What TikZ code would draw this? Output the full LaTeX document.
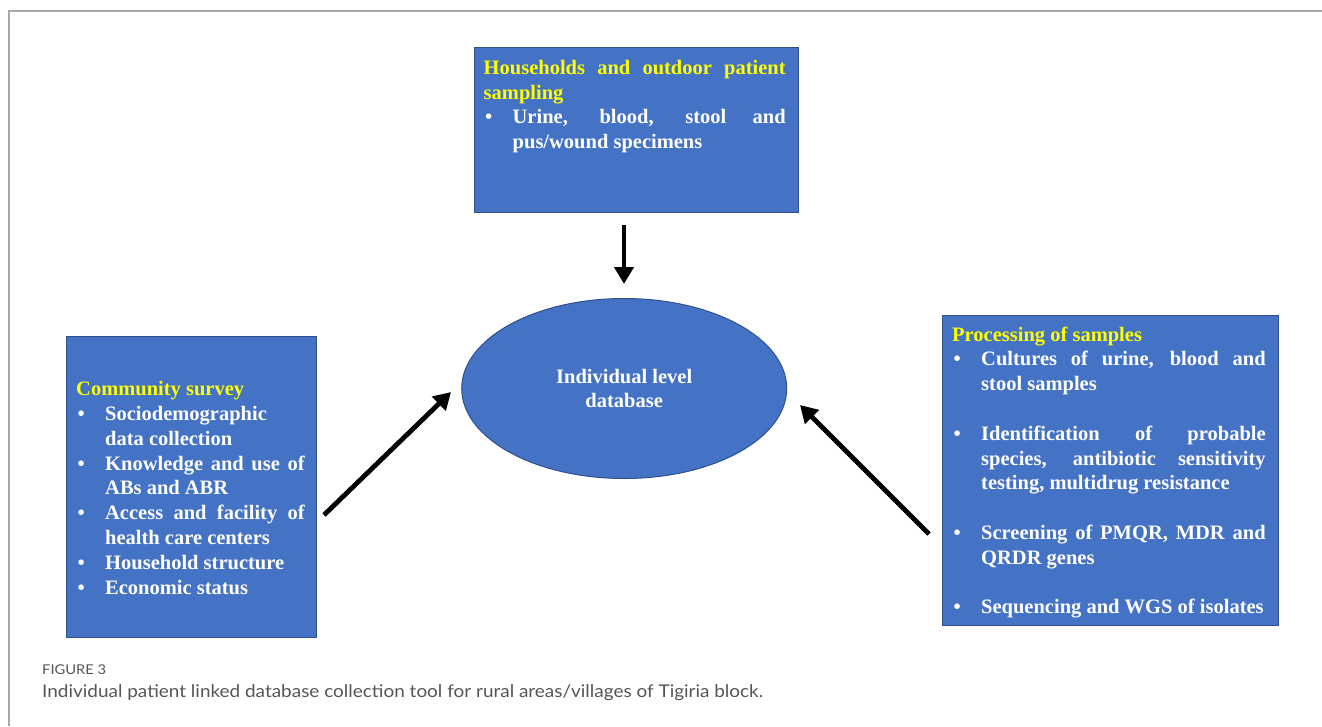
\documentclass[tikz,border=0pt]{standalone}
\usepackage{fontspec}
\usepackage{graphicx}
\setmainfont{Liberation Serif}
\newfontfamily\capfont{Lato}
\usetikzlibrary{arrows.meta,shapes.geometric}
\definecolor{boxblue}{HTML}{4472C4}
\definecolor{boxedge}{HTML}{2F528F}
\definecolor{ttlyellow}{HTML}{FFFF00}
\definecolor{framegray}{HTML}{A8A8A8}
\definecolor{capgray}{HTML}{555555}
\newcommand\bitem[1]{\par\noindent\hangindent=29pt\hangafter=1\makebox[29pt][l]{\hspace{1.5pt}\textbullet}#1\par}
\newcommand\ttl[1]{\par\noindent{\color{ttlyellow}#1}\par}
\newcommand\blankline{\vspace{24.8pt}}
\tikzset{
  bluebox/.style={draw=boxedge, line width=1pt, fill=boxblue, anchor=north west, inner sep=0pt},
  boxtext/.style={anchor=base west, inner sep=0pt, text=white, align=justify,
    font=\fontsize{20.5}{24.8}\selectfont\bfseries},
  bigarrow/.style={line width=4.8pt, -{Triangle[length=17pt,width=19pt]}},
  framel/.style={draw=framegray, line width=1.5pt}
}
\begin{document}
\begin{tikzpicture}[x=1pt,y=-1pt]
\useasboundingbox (0,0) rectangle (1322,726);
% frame
\draw[framel] (9,726) -- (9,11) -- (1322,11);
% top box
\node[bluebox, minimum width=324.5pt, minimum height=164.5pt] (topbox) at (473.5,47.3) {};
\node[boxtext, text width=302pt] (toptext) at (483.5,49.5) {%
\ttl{Households and outdoor patient\linebreak sampling}%
\bitem{Urine, blood, stool and\linebreak pus/wound specimens}};
% left box
\node[bluebox, minimum width=250pt, minimum height=301pt] (leftbox) at (66,336.3) {};
\node[boxtext, text width=228.5pt] (lefttext) at (76,370.8) {%
\ttl{Community survey}%
\bitem{Sociodemographic\linebreak data collection}%
\bitem{Knowledge and use of\linebreak ABs and ABR}%
\bitem{Access and facility of\linebreak health care centers}%
\bitem{Household structure}%
\bitem{Economic status}};
% right box
\node[bluebox, minimum width=336pt, minimum height=310pt] (rightbox) at (942,315) {};
\node[boxtext, text width=313.5pt] (righttext) at (952,316.2) {%
\ttl{Processing of samples}%
\bitem{Cultures of urine, blood and\linebreak stool samples}\blankline
\bitem{Identification of probable\linebreak species, antibiotic sensitivity\linebreak testing, multidrug resistance}\blankline
\bitem{Screening of PMQR, MDR and\linebreak QRDR genes}\blankline
\bitem{Sequencing and WGS of isolates}};
% ellipse
\node[ellipse, draw=boxedge, line width=1pt, fill=boxblue, inner sep=0pt,
  minimum width=325pt, minimum height=180pt, text=white, align=center,
  font=\fontsize{20.5}{24.8}\selectfont\bfseries] (db) at (624.2,388.5) {Individual level\\database};
% arrows
\coordinate (a1s) at (624,225);
\coordinate (a1e) at (624,284);
\coordinate (a2s) at (324,515);
\coordinate (a2e) at (451,392);
\coordinate (a3s) at (929,534);
\coordinate (a3e) at (800,405);
\draw[bigarrow] (a1s) -- (a1e);
\draw[bigarrow] (a2s) -- (a2e);
\draw[bigarrow] (a3s) -- (a3e);
% caption
\node[anchor=base west, inner sep=0pt, text=capgray, font=\capfont\fontsize{13.5}{15}\selectfont] (fig) at (42,674) {\resizebox{64pt}{\height}{FIGURE 3}};
\node[anchor=base west, inner sep=0pt, text=capgray, font=\capfont\fontsize{17.5}{20}\selectfont] (cap) at (42,697.5) {\resizebox{721pt}{\height}{Individual patient linked database collection tool for rural areas/villages of Tigiria block.}};
\end{tikzpicture}
\end{document}
